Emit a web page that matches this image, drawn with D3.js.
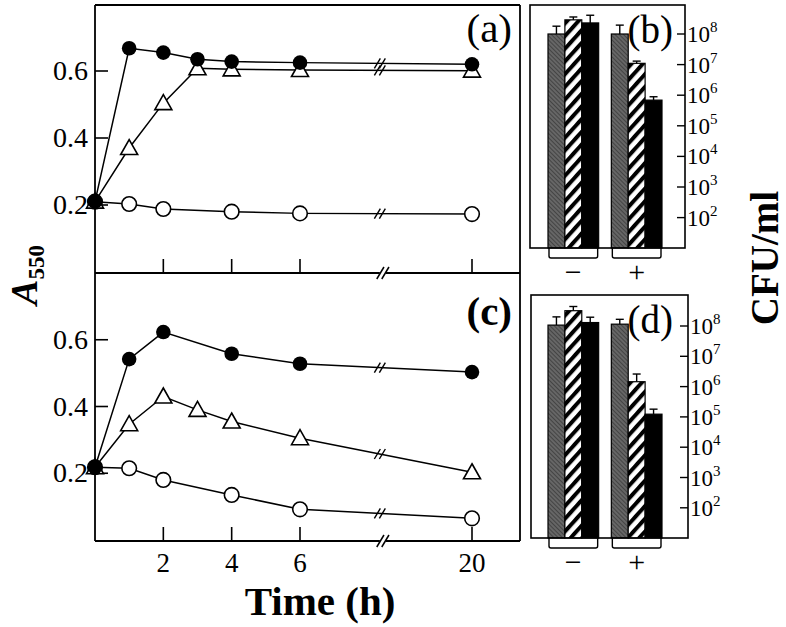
<!DOCTYPE html>
<html>
<head>
<meta charset="utf-8">
<script src="https://cdn.jsdelivr.net/npm/d3@7"></script>
<style>
  html, body { margin: 0; padding: 0; background: #fff; }
  svg { display: block; }
  text { font-family: "Liberation Serif", "Times New Roman", Times, serif; fill: #000; }
</style>
</head>
<body>
<svg id="chart" width="786" height="627" font-family="Liberation Serif, Times New Roman, serif"></svg>
<script>
// ---------------- DATA ----------------
// Panel (a)
const timesAFilled = [0, 1, 2, 3, 4, 6, 20];
const valuesAFilled = [0.21, 0.668, 0.655, 0.635, 0.628, 0.625, 0.62];
const timesATri = [0, 1, 2, 3, 4, 6, 20];
const valuesATri = [0.21, 0.37, 0.504, 0.608, 0.605, 0.603, 0.601];
const timesAOpen = [0, 1, 2, 4, 6, 20];
const valuesAOpen = [0.21, 0.203, 0.188, 0.18, 0.175, 0.173];
// Panel (c)
const timesCFilled = [0, 1, 2, 4, 6, 20];
const valuesCFilled = [0.218, 0.542, 0.623, 0.558, 0.528, 0.503];
const timesCTri = [0, 1, 2, 3, 4, 6, 20];
const valuesCTri = [0.218, 0.347, 0.43, 0.39, 0.355, 0.305, 0.203];
const timesCOpen = [0, 1, 2, 4, 6, 20];
const valuesCOpen = [0.218, 0.215, 0.18, 0.135, 0.092, 0.065];

const timeTicks = [2, 4, 6, 20];
const timeTickLabels = ["2", "4", "6", "20"];
const absTicks = [0.2, 0.4, 0.6];
const absTickLabels = ["0.2", "0.4", "0.6"];
const breakTime = 12.5;

// Panels (b) and (d): CFU/ml
const groups = ["\u2212", "+"];
const barSeries = ["grey", "hatched", "black"];
const cfuBGrey = [1.0e8, 1.0e8];
const cfuBHatched = [2.9e8, 1.1e7];
const cfuBBlack = [2.3e8, 6.9e5];
const errBGrey = [1.8e8, 1.95e8];
const errBHatched = [3.6e8, 1.3e7];
const errBBlack = [4.1e8, 8.9e5];

const cfuDGrey = [1.07e8, 1.15e8];
const cfuDHatched = [3.2e8, 1.45e6];
const cfuDBlack = [1.3e8, 1.23e5];
const errDGrey = [2.0e8, 1.66e8];
const errDHatched = [4.4e8, 2.6e6];
const errDBlack = [1.95e8, 1.8e5];

const logTicks = [1e2, 1e3, 1e4, 1e5, 1e6, 1e7, 1e8];
const logTickExponents = ["2", "3", "4", "5", "6", "7", "8"];

// ---------------- DRAWING ----------------
const svg = d3.select("#chart");
const defs = svg.append("defs");

// hatch pattern ("///")
const pat = defs.append("pattern")
  .attr("id", "hatch").attr("patternUnits", "userSpaceOnUse")
  .attr("width", 8.5).attr("height", 8.5)
  .attr("patternTransform", "rotate(-48)");
pat.append("rect").attr("width", 8.5).attr("height", 8.5).attr("fill", "#fff");
pat.append("rect").attr("x", 0).attr("y", 0).attr("width", 8.5).attr("height", 4).attr("fill", "#000");

// grey texture pattern
const gp = defs.append("pattern")
  .attr("id", "greytex").attr("patternUnits", "userSpaceOnUse")
  .attr("width", 3).attr("height", 3).attr("patternTransform", "rotate(45)");
gp.append("rect").attr("width", 3).attr("height", 3).attr("fill", "#666");
gp.append("rect").attr("width", 3).attr("height", 1).attr("fill", "#444");

const L = { left: 95, right: 520, topA: 5, midY: 273, botC: 541 };

const x = d3.scaleLinear().domain([0, 6, 20]).range([95, 300, 472]);
const yA = d3.scaleLinear().domain([0, 0.8]).range([272, 4]);
const yC = d3.scaleLinear().domain([0, 0.8]).range([540, 273]);

// frame of the left panels
const frame = svg.append("g").attr("stroke", "#000").attr("stroke-width", 1.8).attr("fill", "none");
frame.append("line").attr("x1", L.left).attr("x2", L.right).attr("y1", L.topA).attr("y2", L.topA);
frame.append("line").attr("x1", L.left).attr("x2", L.left).attr("y1", L.topA).attr("y2", L.botC);
frame.append("line").attr("x1", L.right).attr("x2", L.right).attr("y1", L.topA).attr("y2", L.botC);
frame.append("line").attr("x1", L.left).attr("x2", L.right).attr("y1", L.midY).attr("y2", L.midY);
frame.append("line").attr("x1", L.left).attr("x2", L.right).attr("y1", L.botC).attr("y2", L.botC);

function axisBreak(cx, cy, h) {
  const g = svg.append("g");
  g.append("rect").attr("x", cx - 3).attr("y", cy - 3).attr("width", 6).attr("height", 6).attr("fill", "#fff");
  [-2.5, 2.5].forEach(o => {
    g.append("line")
      .attr("x1", cx + o - h * 0.3).attr("y1", cy + h / 2)
      .attr("x2", cx + o + h * 0.3).attr("y2", cy - h / 2)
      .attr("stroke", "#000").attr("stroke-width", 1.5);
  });
}

function drawLinePanel(y, baseY, showLabels, series, label, bold) {
  const g = svg.append("g");
  // x ticks (inward, upward)
  g.selectAll(".xt").data(timeTicks).enter().append("line")
    .attr("x1", d => x(d)).attr("x2", d => x(d))
    .attr("y1", baseY).attr("y2", baseY - 14)
    .attr("stroke", "#000").attr("stroke-width", 1.6);
  if (showLabels) {
    g.selectAll(".xl").data(timeTicks).enter().append("text")
      .attr("x", d => x(d)).attr("y", baseY + 31)
      .attr("text-anchor", "middle").attr("font-size", 27)
      .text((d, i) => timeTickLabels[i]);
  }
  // y ticks
  g.selectAll(".yt").data(absTicks).enter().append("line")
    .attr("x1", L.left).attr("x2", L.left + 13)
    .attr("y1", d => y(d)).attr("y2", d => y(d))
    .attr("stroke", "#000").attr("stroke-width", 1.6);
  g.selectAll(".yl").data(absTicks).enter().append("text")
    .attr("x", 88).attr("y", d => y(d) + 9)
    .attr("text-anchor", "end").attr("font-size", 28)
    .text((d, i) => absTickLabels[i]);
  // axis break
  axisBreak(x(breakTime) + 3, baseY, 12);

  const line = d3.line().x(d => x(d[0])).y(d => y(d[1]));
  series.forEach(s => {
    const pts = s.t.map((t, i) => [t, s.v[i]]);
    g.append("path").attr("d", line(pts)).attr("fill", "none")
      .attr("stroke", "#000").attr("stroke-width", 1.5);
  });
  // line breaks
  series.forEach(s => {
    const n = s.t.length;
    const x0 = x(s.t[n - 2]), x1 = x(s.t[n - 1]);
    const y0 = y(s.v[n - 2]), y1 = y(s.v[n - 1]);
    const xb = x(breakTime);
    const yb = y0 + (y1 - y0) * (xb - x0) / (x1 - x0);
    [-2.5, 2.5].forEach(o => {
      g.append("line")
        .attr("x1", xb + o - 3).attr("y1", yb + 5)
        .attr("x2", xb + o + 3).attr("y2", yb - 5)
        .attr("stroke", "#000").attr("stroke-width", 1.4);
    });
  });
  // markers (open circles, triangles, then filled circles)
  series.forEach(s => {
    const pts = s.t.map((t, i) => [t, s.v[i]]);
    if (s.type === "open") {
      g.selectAll(null).data(pts).enter().append("circle")
        .attr("cx", d => x(d[0])).attr("cy", d => y(d[1])).attr("r", 7.3)
        .attr("fill", "#fff").attr("stroke", "#000").attr("stroke-width", 1.6);
    } else if (s.type === "tri") {
      g.selectAll(null).data(pts).enter().append("path")
        .attr("d", d => {
          const cx = x(d[0]), cy = y(d[1]);
          return `M${cx},${cy - 8.5}L${cx + 8.5},${cy + 6.5}L${cx - 8.5},${cy + 6.5}Z`;
        })
        .attr("fill", "#fff").attr("stroke", "#000").attr("stroke-width", 1.6);
    }
  });
  series.filter(s => s.type === "filled").forEach(s => {
    const pts = s.t.map((t, i) => [t, s.v[i]]);
    g.selectAll(null).data(pts).enter().append("circle")
      .attr("cx", d => x(d[0])).attr("cy", d => y(d[1])).attr("r", 7.3)
      .attr("fill", "#000");
  });
  // panel label
  g.append("text").attr("x", 512).attr("y", y(0.8) + (bold ? 52 : 38))
    .attr("text-anchor", "end").attr("font-size", 41)
    .attr("font-weight", bold ? "bold" : "normal").text(label);
}

drawLinePanel(yA, L.midY, false, [
  { type: "open", t: timesAOpen, v: valuesAOpen },
  { type: "tri", t: timesATri, v: valuesATri },
  { type: "filled", t: timesAFilled, v: valuesAFilled }
], "(a)", false);

drawLinePanel(yC, L.botC, true, [
  { type: "open", t: timesCOpen, v: valuesCOpen },
  { type: "tri", t: timesCTri, v: valuesCTri },
  { type: "filled", t: timesCFilled, v: valuesCFilled }
], "(c)", true);

// axis titles
svg.append("text").attr("x", 320).attr("y", 615).attr("text-anchor", "middle")
  .attr("font-size", 41).attr("font-weight", "bold").text("Time (h)");

const aLab = svg.append("text")
  .attr("transform", "translate(37,275) rotate(-90)")
  .attr("text-anchor", "middle").attr("font-weight", "bold");
aLab.append("tspan").attr("font-size", 38).attr("font-style", "italic").text("A");
aLab.append("tspan").attr("font-size", 23).attr("dy", 7).text("550");

svg.append("text")
  .attr("transform", "translate(778,258) rotate(-90)")
  .attr("text-anchor", "middle").attr("font-size", 39).attr("font-weight", "bold")
  .text("CFU/ml");

// ---------------- BAR PANELS ----------------
const xg = d3.scaleBand().domain(groups).range([548, 662]).paddingInner(0.2).paddingOuter(0);
const xs = d3.scaleBand().domain(barSeries).range([0, xg.bandwidth()]);
const fills = { grey: "url(#greytex)", hatched: "url(#hatch)", black: "#000" };

function drawBarPanel(box, yScale, vals, errs, label) {
  const g = svg.append("g");
  // bars
  barSeries.forEach((s, si) => {
    groups.forEach((grp, gi) => {
      const bx = xg(grp) + xs(s);
      const top = yScale(vals[si][gi]);
      g.append("rect").attr("x", bx).attr("y", top)
        .attr("width", xs.bandwidth()).attr("height", box.y1 - top)
        .attr("fill", fills[s]).attr("stroke", "#000").attr("stroke-width", 1.2);
      const cx = bx + xs.bandwidth() / 2;
      const ey = yScale(errs[si][gi]);
      g.append("line").attr("x1", cx).attr("x2", cx).attr("y1", top).attr("y2", ey)
        .attr("stroke", "#000").attr("stroke-width", 1.4);
      g.append("line").attr("x1", cx - 4).attr("x2", cx + 4).attr("y1", ey).attr("y2", ey)
        .attr("stroke", "#000").attr("stroke-width", 1.4);
    });
  });
  // box
  g.append("rect").attr("x", box.x0).attr("y", box.y0)
    .attr("width", box.x1 - box.x0).attr("height", box.y1 - box.y0)
    .attr("fill", "none").attr("stroke", "#000").attr("stroke-width", 1.6);
  // ticks on right side, inward
  g.selectAll(".t").data(logTicks).enter().append("line")
    .attr("x1", box.x1 - 8).attr("x2", box.x1)
    .attr("y1", d => yScale(d)).attr("y2", d => yScale(d))
    .attr("stroke", "#000").attr("stroke-width", 1.4);
  const tl = g.selectAll(".tl").data(logTicks).enter().append("text")
    .attr("x", box.x1 + 2).attr("y", d => yScale(d) + 8)
    .attr("font-size", 23);
  tl.append("tspan").text("10");
  tl.append("tspan").attr("font-size", 15).attr("dy", -10).text((d, i) => logTickExponents[i]);
  // brackets
  groups.forEach(grp => {
    const x0 = xg(grp) + 1, x1 = xg(grp) + xg.bandwidth() - 1;
    const yb = box.y1 + 10;
    g.append("path")
      .attr("d", `M${x0},${box.y1}L${x0},${yb - 2}Q${x0},${yb} ${x0 + 2},${yb}L${x1 - 2},${yb}Q${x1},${yb} ${x1},${yb - 2}L${x1},${box.y1}`)
      .attr("fill", "none").attr("stroke", "#000").attr("stroke-width", 1.4);
    g.append("text").attr("x", xg(grp) + xg.bandwidth() / 2).attr("y", box.y1 + 34)
      .attr("text-anchor", "middle").attr("font-size", 30).text(grp);
  });
  // label
  g.append("text").attr("x", 673).attr("y", box.y0 + 38)
    .attr("text-anchor", "end").attr("font-size", 39).text(label);
}

const yB = d3.scaleLog().domain([10, 1e9]).range([248.2, 3.4]);
const yD = d3.scaleLog().domain([10, 1e9]).range([538.1, 295.7]);

drawBarPanel({ x0: 530, x1: 685, y0: 5, y1: 248 }, yB,
  [cfuBGrey, cfuBHatched, cfuBBlack], [errBGrey, errBHatched, errBBlack], "(b)");
drawBarPanel({ x0: 531, x1: 688, y0: 295, y1: 538 }, yD,
  [cfuDGrey, cfuDHatched, cfuDBlack], [errDGrey, errDHatched, errDBlack], "(d)");
</script>
</body>
</html>
